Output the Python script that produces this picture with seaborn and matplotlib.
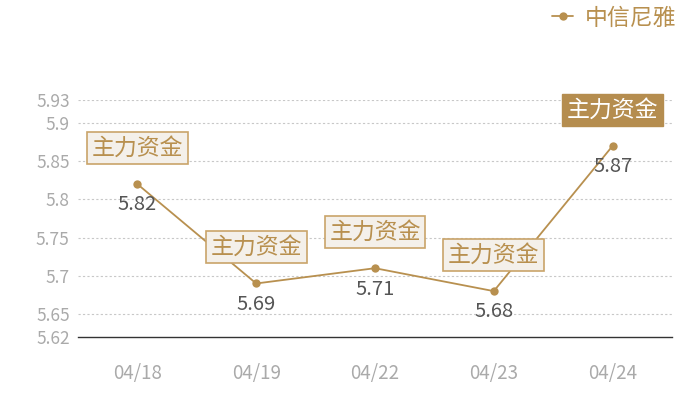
import seaborn as sns
import pandas as pd
import matplotlib.pyplot as plt

dates = ['04/18', '04/19', '04/22', '04/23', '04/24']
prices = [5.82, 5.69, 5.71, 5.68, 5.87]
notes = ['主力资金', '主力资金', '主力资金', '主力资金', '主力资金']
yticks = [5.62, 5.65, 5.7, 5.75, 5.8, 5.85, 5.9, 5.93]
series_name = '中信尼雅'

gold = '#b8904f'

sns.set_style('white')
plt.rcParams['font.family'] = ['Noto Sans CJK SC', 'DejaVu Sans']

df = pd.DataFrame({'date': dates, 'price': prices})
df['x'] = range(len(df))

fig = plt.figure(figsize=(7, 4), dpi=100)
ax = fig.add_axes([0.1114, 0.1575, 0.8486, 0.5925])

sns.lineplot(data=df, x='x', y='price', ax=ax, color=gold, marker='o',
             markersize=6, markeredgewidth=0, linewidth=1.3, label=series_name,
             zorder=3)

ax.set_xlim(-0.5, 4.5)
ax.set_ylim(5.62, 5.93)
ax.set_yticks(yticks)
ax.set_yticklabels([f'{t:g}' for t in yticks])
ax.set_xticks(df['x'])
ax.set_xticklabels(dates)
ax.set_xlabel('')
ax.set_ylabel('')
ax.tick_params(axis='both', length=0, labelsize=12.5, labelcolor='#aaaaaa')
ax.tick_params(axis='x', pad=19, labelsize=13.5)
ax.tick_params(axis='y', pad=6)

for t in yticks[1:]:
    ax.axhline(t, color='#c8c8c8', linestyle=(0, (2, 2)), linewidth=0.8, zorder=1)

for s in ['top', 'right', 'left']:
    ax.spines[s].set_visible(False)
ax.spines['bottom'].set_color('#333333')
ax.spines['bottom'].set_linewidth(1.0)

for i, (x, y, note) in enumerate(zip(df['x'], prices, notes)):
    ax.annotate(f'{y:.2f}', (x, y), xytext=(0, -15), textcoords='offset points',
                ha='center', va='center', fontsize=14.5, color='#555555', zorder=4)
    if i == len(prices) - 1:
        box = dict(boxstyle='square,pad=0.2', fc='#b58d4f', ec='#b58d4f')
        tc = 'white'
    else:
        box = dict(boxstyle='square,pad=0.2', fc='#f4f0ea', ec='#c9a46a', lw=1.2)
        tc = gold
    ax.annotate(note, (x, y), xytext=(0, 26), textcoords='offset points',
                ha='center', va='center', fontsize=16.5, color=tc, bbox=box,
                zorder=5)

leg = ax.legend(loc='center right', bbox_to_anchor=(0.995, 0.955),
                bbox_transform=fig.transFigure, frameon=False, fontsize=16.5,
                handlelength=0.9, handletextpad=0.5)
for txt in leg.get_texts():
    txt.set_color(gold)

fig.savefig('out.png', dpi=100)
